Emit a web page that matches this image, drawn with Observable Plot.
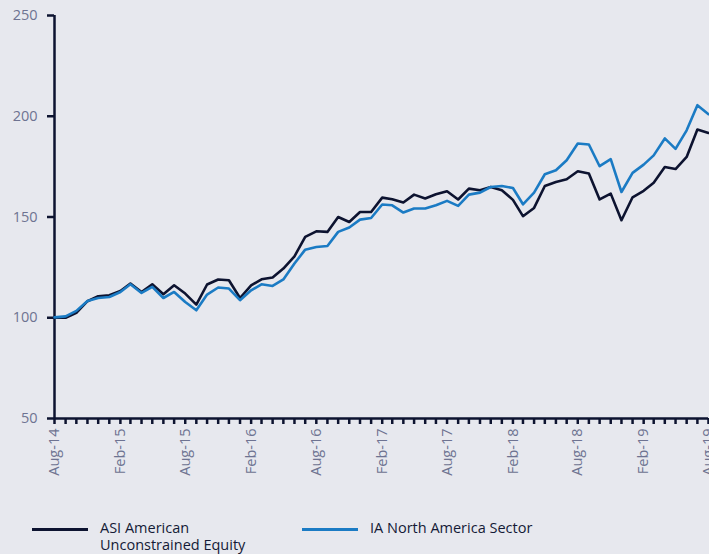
<!DOCTYPE html>
<html>
<head>
<meta charset="utf-8">
<script src="https://cdn.jsdelivr.net/npm/d3@7"></script>
<script src="https://cdn.jsdelivr.net/npm/@observablehq/plot@0.6"></script>
<style>
  html, body { margin: 0; padding: 0; background: #e7e8ee; }
  #wrap { width: 709px; height: 554px; background: #e7e8ee; position: relative; overflow: hidden; font-family: "Open Sans", sans-serif; }
  #legend { position: absolute; left: 0; top: 519px; width: 709px; height: 35px; }
  .item { position: absolute; display: flex; align-items: flex-start; }
  .swatch { width: 56px; height: 3px; margin-top: 9px; }
  .label { font-size: 14.5px; line-height: 17px; color: #141a36; margin-left: 12px; }
</style>
</head>
<body>
<div id="wrap">
  <div id="chart"></div>
  <div id="legend"></div>
</div>
<script>
const seriesNames = ["ASI American\nUnconstrained Equity", "IA North America Sector"];
const seriesColors = ["#0d1330", "#1b7bc4"];
const startYear = 2014, startMonth = 7; // Aug-14, monthly observations to Aug-19
const asi = [100, 100, 102.4, 108.2, 110.7, 111.2, 113.3, 117, 112.8, 116.6, 111.7,
  116.1, 112, 106.5, 116.5, 119, 118.6, 109.8, 116.1, 119.1, 120, 124.4,
  130.5, 140.1, 142.9, 142.6, 150, 147.5, 152.5, 152.5, 159.6, 158.8, 157.2,
  161.1, 159.2, 161.3, 162.8, 158.7, 164.1, 163.3, 164.9, 163.3, 158.5, 150.4,
  154.5, 165.4, 167.4, 168.7, 172.7, 171.6, 158.7, 161.6, 148.4, 159.8, 163,
  167, 174.8, 173.8, 179.8, 193.4, 191.7];
const ia = [100.2, 100.7, 103.4, 108.3, 109.8, 110.3, 112.8, 116.6, 112.3, 115.3, 109.8,
  112.8, 107.8, 103.7, 111.5, 115, 114.5, 108.7, 113.6, 116.6, 115.8, 119,
  126.9, 133.8, 135.1, 135.6, 142.6, 144.8, 148.7, 149.5, 156.2, 155.8, 152.2,
  154.2, 154.2, 155.8, 158, 155.5, 161.1, 162.1, 164.9, 165.4, 164.4, 156.3,
  162.1, 171.2, 173.2, 178.2, 186.5, 186, 175.2, 178.7, 162.4, 171.9, 176,
  180.6, 189, 183.8, 193, 205.5, 201];
const yTicks = [50, 100, 150, 200, 250];

const dates = asi.map((_, i) => new Date(Date.UTC(startYear, startMonth + i, 1)));
const rows = [];
[asi, ia].forEach((vals, s) => vals.forEach((v, i) => rows.push({date: dates[i], value: v, series: s})));

const axisColor = "#0d1330";
const tickText = "#6e7391";
const monthTicks = d3.utcMonth.range(dates[0], new Date(+dates[dates.length - 1] + 1));
const labelTicks = monthTicks.filter((d, i) => i % 6 === 0);

const chart = Plot.plot({
  width: 709,
  height: 500,
  marginLeft: 54,
  marginRight: 1,
  marginTop: 15,
  marginBottom: 82,
  style: {background: "transparent", fontFamily: "Open Sans, sans-serif", overflow: "hidden"},
  x: {type: "utc", domain: [dates[0], dates[dates.length - 1]], label: null},
  y: {domain: [50, 250], label: null},
  marks: [
    Plot.axisY({ticks: yTicks, tickSize: 7, tickPadding: 10, stroke: axisColor, strokeWidth: 2.5, fill: tickText, fontSize: 14.5, tickFormat: d3.format("d"), label: null}),
    Plot.axisX({ticks: monthTicks, tickSize: 6, tickFormat: () => "", stroke: axisColor, strokeWidth: 2.5, label: null}),
    Plot.axisX({ticks: labelTicks, tickSize: 0, tickPadding: 10, tickRotate: -90, tickFormat: d3.utcFormat("%b-%y"), fill: tickText, fontSize: 14.5, textAnchor: "end", label: null}),
    Plot.ruleX([dates[0]], {y1: 50, y2: 250, stroke: axisColor, strokeWidth: 2.5}),
    Plot.ruleY([50], {stroke: axisColor, strokeWidth: 2.5}),
    Plot.line(rows.filter(d => d.series === 0), {x: "date", y: "value", stroke: seriesColors[0], strokeWidth: 2.6}),
    Plot.line(rows.filter(d => d.series === 1), {x: "date", y: "value", stroke: seriesColors[1], strokeWidth: 2.6})
  ]
});
document.getElementById("chart").appendChild(chart);

const legend = document.getElementById("legend");
const lefts = [32, 302];
seriesNames.forEach((name, i) => {
  const it = document.createElement("div");
  it.className = "item";
  it.style.left = lefts[i] + "px";
  const sw = document.createElement("div");
  sw.className = "swatch";
  sw.style.background = seriesColors[i];
  const lb = document.createElement("div");
  lb.className = "label";
  lb.innerHTML = name.split("\n").join("<br>");
  it.appendChild(sw); it.appendChild(lb);
  legend.appendChild(it);
});
</script>
</body>
</html>
